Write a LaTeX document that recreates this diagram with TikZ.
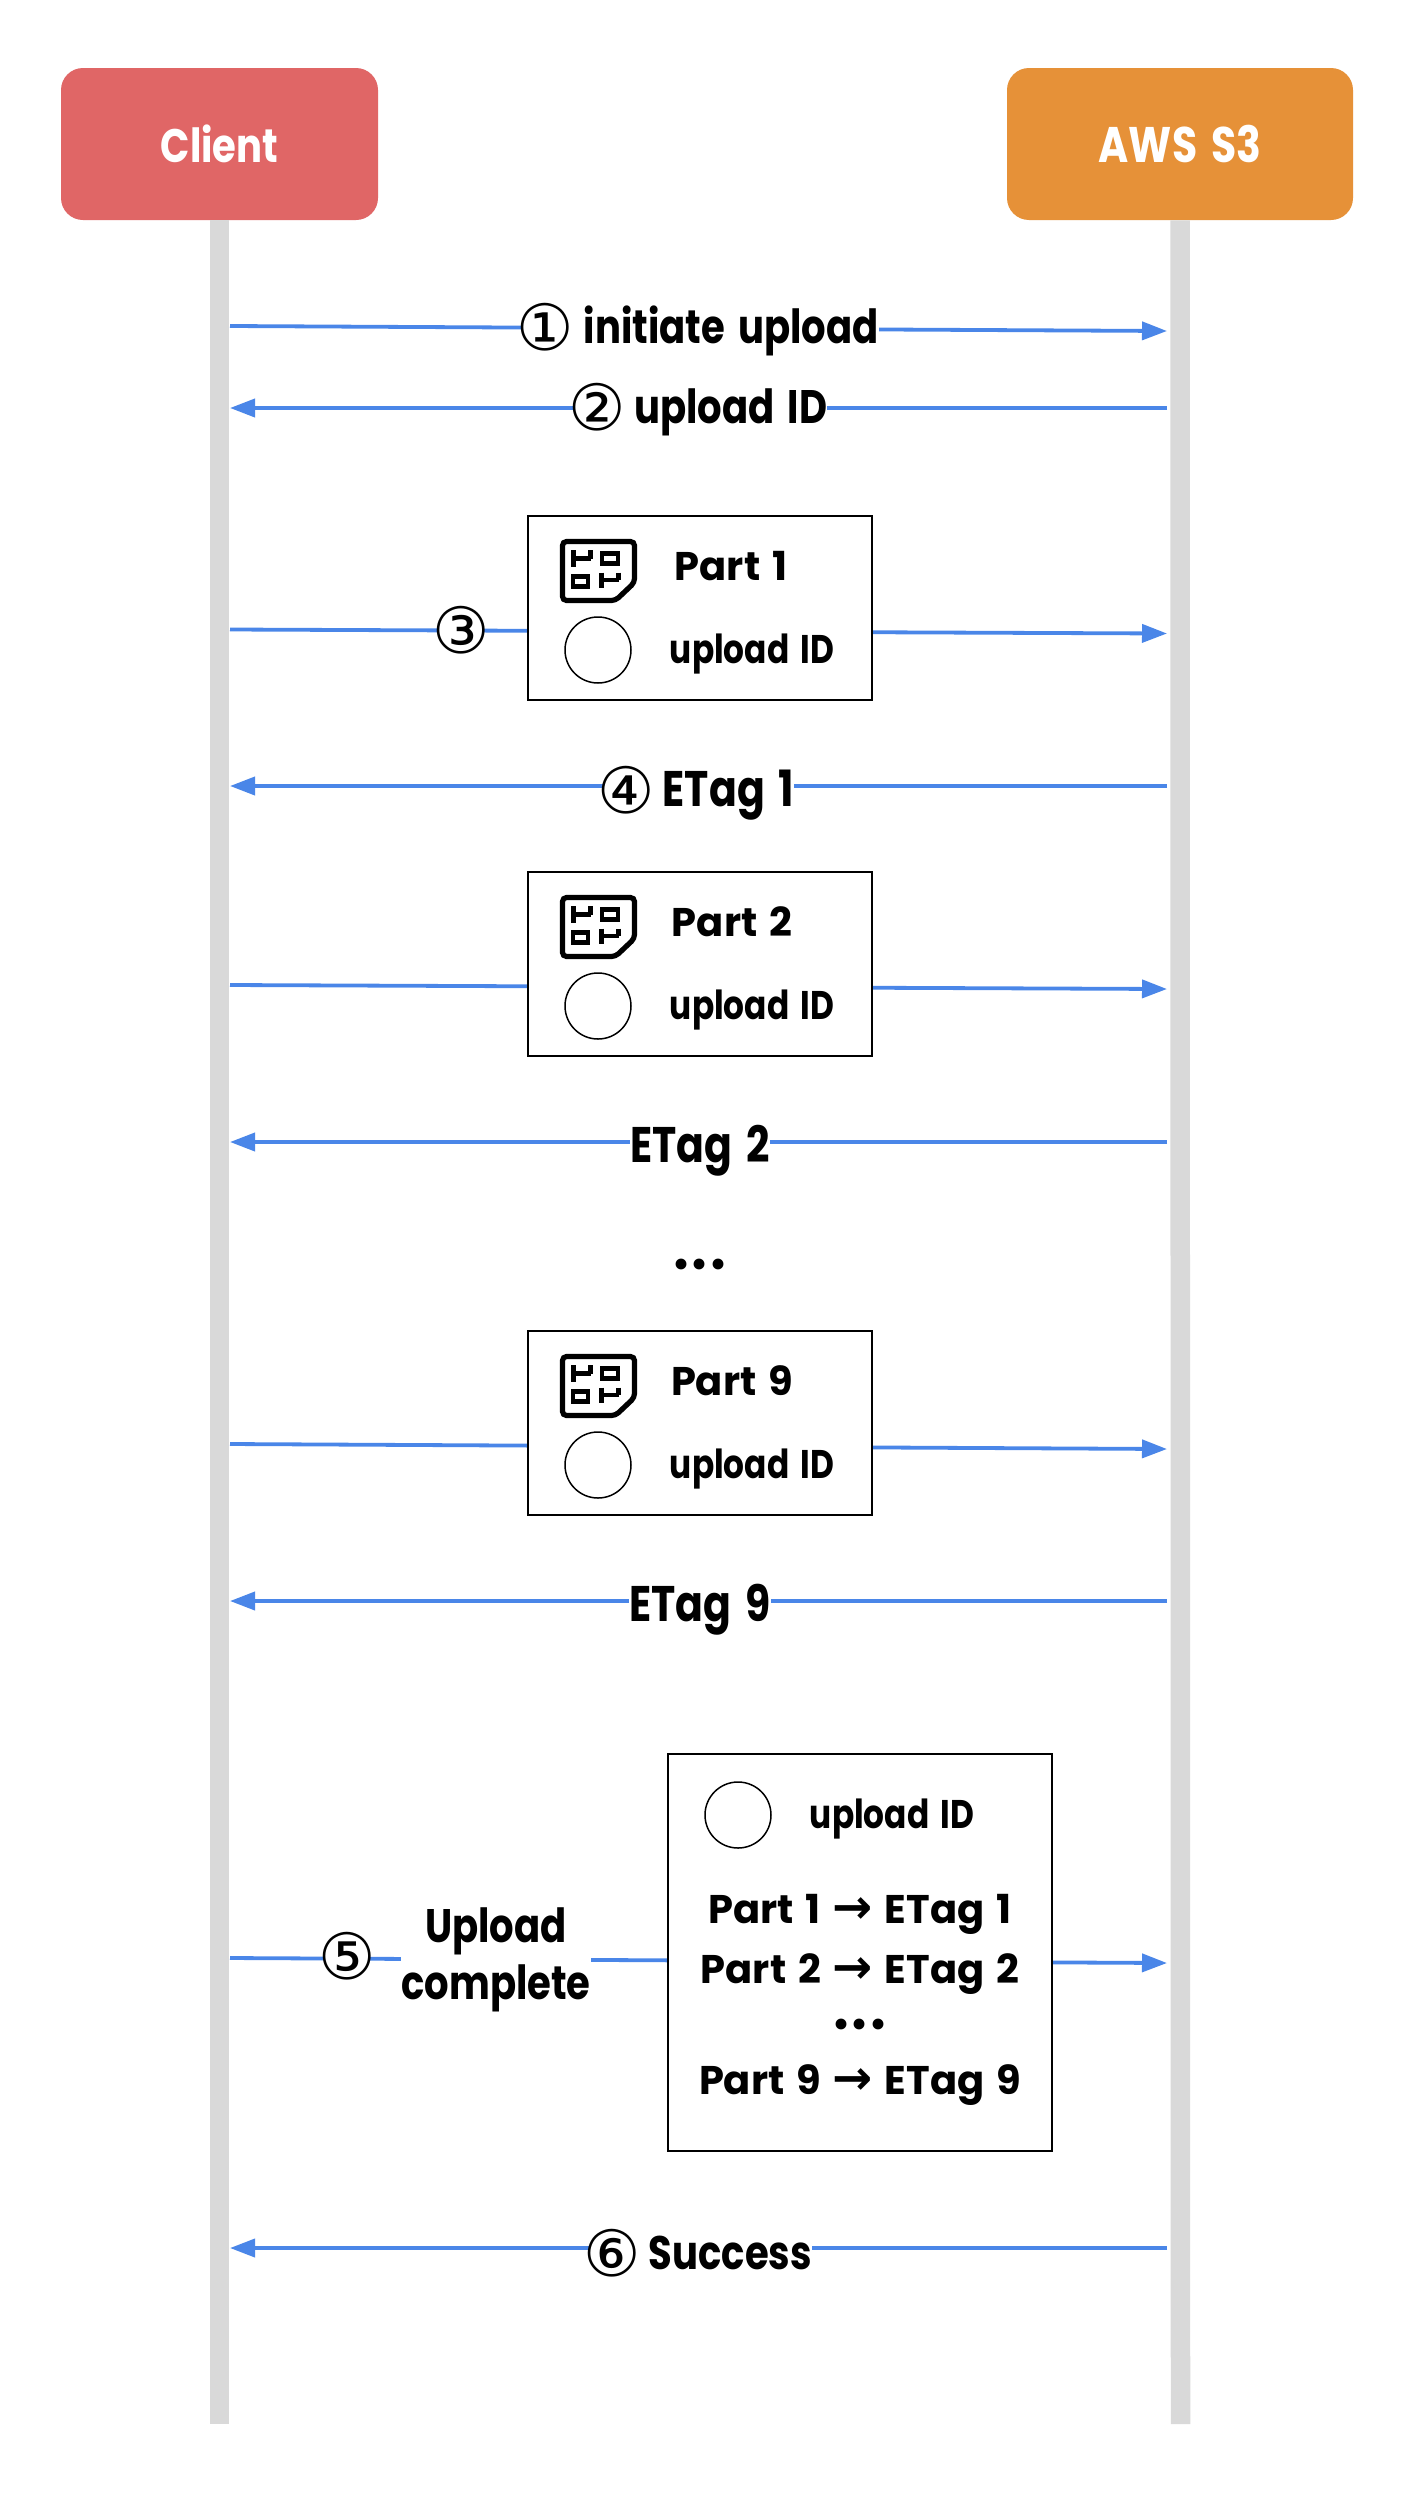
\documentclass[tikz,border=0pt]{standalone}
\usepackage{fontspec}
\setmainfont{Poppins}[FakeStretch=0.82,WordSpace=1.6]
\newfontfamily\symfont{DejaVu Sans}
\newfontfamily\dotfont{Poppins}
\newfontfamily\partfont{Poppins}[WordSpace=1.4]
\usetikzlibrary{arrows.meta}
\definecolor{clientred}{HTML}{E06666}
\definecolor{awsorange}{HTML}{E69138}
\definecolor{msgblue}{HTML}{4A86E8}
\definecolor{lifegray}{HTML}{D9D9D9}
\newcommand{\szA}{\fontsize{20}{24}\selectfont}
\newcommand{\szB}{\fontsize{23.5}{28.5}\selectfont}
\newcommand{\szE}{\fontsize{25}{30}\selectfont}
\newcommand{\szP}{\partfont\fontsize{20}{24}\selectfont}
\newcommand{\numglyph}[1]{\kern-3pt\raisebox{-3.5pt}{\symfont\mdseries\fontsize{32}{34}\selectfont #1}\kern-3pt}
\newcommand{\arrowglyph}{{\symfont\bfseries\fontsize{24}{24}\selectfont →}}
\newcommand{\dotsglyph}{{\dotfont\bfseries\fontsize{18}{22}\selectfont •••}}
\tikzset{
  actor/.style={rounded corners=11pt,text=white,font=\szB\bfseries,minimum height=76pt,inner sep=0pt},
  lifeline/.style={line width=9.75pt,lifegray},
  msg/.style={line width=1.9pt,msgblue,-{Triangle[length=12.5pt,width=9pt]}},
  msgbox/.style={draw=black,fill=white,line width=0.75pt,inner sep=0pt},
  idcircle/.style={circle,draw=black,fill=white,line width=0.75pt,minimum size=33pt,inner sep=0pt},
  boxtext/.style={font=\szA\bfseries,inner sep=0pt,anchor=base},
  parttext/.style={font=\szP\bfseries,inner sep=0pt,anchor=base},
  msglabel/.style={font=\szB\bfseries,fill=white,inner sep=0pt,anchor=base west},
  msgcenter/.style={msglabel,anchor=base},
  icon/.pic={
    \draw[line width=2.6pt,rounded corners=2pt,fill=white] (0,0) -- (72,0) -- (72,41) -- (53,59) -- (0,59) -- cycle;
    \draw[line width=2.2pt] (11,8.5) -- (11,25) (11,17) -- (28,17) (28,8.5) -- (28,17);
    \draw[line width=2.2pt] (39.5,12) rectangle (55.5,22);
    \draw[line width=2.2pt] (10.5,35) rectangle (25.5,45);
    \draw[line width=2.2pt] (39,31) -- (39,46) (39,38.5) -- (56,38.5) (56,31) -- (56,38.5);
  }
}
\begin{document}
\begin{tikzpicture}[x=0.5pt,y=-0.5pt]
\useasboundingbox[fill=white] (0,0) rectangle (1406,2500);
\node[actor,fill=clientred,minimum width=158.5pt] (client) at (219.5,144) {Client};
\node[actor,fill=awsorange,minimum width=173pt,font=\szE\bfseries] (aws) at (1180,144) {AWS S3};
\coordinate (clientend) at (219.5,2424);
\coordinate (awsend) at (1180.5,2424);
\draw[lifeline] (client.south) -- (clientend);
\draw[lifeline] (aws.south) -- (awsend);
% message end points
\coordinate (a1) at (230,326); \coordinate (b1) at (1167,331);
\coordinate (a2) at (230,408); \coordinate (b2) at (1167,408);
\coordinate (a3) at (230,629.5); \coordinate (b3) at (1167,633.5);
\coordinate (a4) at (230,786); \coordinate (b4) at (1167,786);
\coordinate (a5) at (230,985); \coordinate (b5) at (1167,989);
\coordinate (a6) at (230,1142); \coordinate (b6) at (1167,1142);
\coordinate (a7) at (230,1444); \coordinate (b7) at (1167,1449);
\coordinate (a8) at (230,1601); \coordinate (b8) at (1167,1601);
\coordinate (a9) at (230,1958); \coordinate (b9) at (1167,1963);
\coordinate (a10) at (230,2248); \coordinate (b10) at (1167,2248);
\draw[msg] (a1) -- (b1);
\draw[msg] (b2) -- (a2);
\draw[msg] (a3) -- (b3);
\draw[msg] (b4) -- (a4);
\draw[msg] (a5) -- (b5);
\draw[msg] (b6) -- (a6);
\draw[msg] (a7) -- (b7);
\draw[msg] (b8) -- (a8);
\draw[msg] (a9) -- (b9);
\draw[msg] (b10) -- (a10);
% labels
\node[msglabel] (l1) at (522,343) {\numglyph{①}\hspace{8pt}initiate upload};
\node[msglabel] (l2) at (574.5,423) {\numglyph{②}\hspace{7pt}upload ID};
\node[msgcenter] (l3) at (461,646) {\numglyph{③}};
\node[msglabel] (l4) at (603,806) {\numglyph{④}\hspace{7pt}{\szE ETag 1}};
\node[msgcenter,font=\szE\bfseries] (l6) at (700,1162) {ETag 2};
\node (dots) at (700,1268) {\dotsglyph};
\node[msgcenter,font=\szE\bfseries] (l8) at (700,1621) {ETag 9};
\node[msgcenter] (l9) at (347,1972) {\numglyph{⑤}};
\node[msglabel,anchor=center,align=center,fill=white] (l9b) at (496,1960) {Upload\\complete};
\node[msglabel] (l10) at (589,2269) {\numglyph{⑥}\hspace{7pt}Success};
% part boxes
\foreach \n/\dy/\lab/\tx in {1/0/Part 1/731,2/356/Part 2/732,9/815/Part 9/732}{
  \node[msgbox,minimum width=172pt,minimum height=92pt] (box\n) at (700,608+\dy) {};
  \pic at (562.5,541.5+\dy) {icon};
  \node[idcircle] (id\n) at (598,650+\dy) {};
  \node[parttext] (part\n) at (\tx,580+\dy) {\lab};
  \node[boxtext] (uid\n) at (752,663+\dy) {upload ID};
}
% completion box
\node[msgbox,minimum width=192pt,minimum height=198.5pt] (bigbox) at (860,1952.5) {};
\node[idcircle] (bigid) at (738,1815) {};
\node[boxtext] (biguid) at (892,1828) {upload ID};
\node[parttext] (m1) at (860,1923) {Part 1 \arrowglyph{} ETag 1};
\node[parttext] (m2) at (860,1983) {Part 2 \arrowglyph{} ETag 2};
\node (m3) at (860,2028) {\dotsglyph};
\node[parttext] (m9) at (860,2094) {Part 9 \arrowglyph{} ETag 9};
\end{tikzpicture}
\end{document}
